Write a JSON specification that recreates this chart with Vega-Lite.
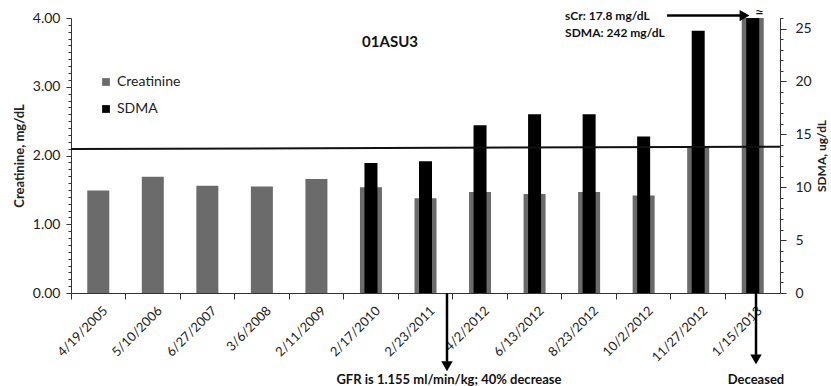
{
  "$schema": "https://vega.github.io/schema/vega-lite/v6.json",
  "autosize": "none",
  "width": 709,
  "height": 275,
  "padding": {"left": 71, "top": 18, "right": 51, "bottom": 93},
  "background": "white",
  "config": {
    "view": {"stroke": null},
    "font": "Lato",
    "axis": {
      "grid": false,
      "domainColor": "#333333",
      "tickColor": "#333333",
      "labelColor": "#222222",
      "titleColor": "#222222",
      "labelFont": "Lato",
      "titleFont": "Lato",
      "labelFontSize": 13,
      "titleFontSize": 13,
      "titleFontWeight": "bold"
    },
    "legend": {"labelFont": "Lato", "labelFontSize": 14, "labelColor": "#222222"}
  },
  "data": {
    "values": [
      {"date": "4/19/2005", "creatinine": 1.49, "sdma": null},
      {"date": "5/10/2006", "creatinine": 1.69, "sdma": null},
      {"date": "6/27/2007", "creatinine": 1.56, "sdma": null},
      {"date": "3/6/2008", "creatinine": 1.55, "sdma": null},
      {"date": "2/11/2009", "creatinine": 1.66, "sdma": null},
      {"date": "2/17/2010", "creatinine": 1.54, "sdma": 12.3},
      {"date": "2/23/2011", "creatinine": 1.38, "sdma": 12.45},
      {"date": "4/2/2012", "creatinine": 1.47, "sdma": 15.85},
      {"date": "6/13/2012", "creatinine": 1.44, "sdma": 16.9},
      {"date": "8/23/2012", "creatinine": 1.47, "sdma": 16.9},
      {"date": "10/2/2012", "creatinine": 1.42, "sdma": 14.8},
      {"date": "11/27/2012", "creatinine": 2.13, "sdma": 24.8},
      {"date": "1/15/2013", "creatinine": 17.8, "sdma": 242}
    ]
  },
  "resolve": {"scale": {"x": "independent", "y": "independent"}},
  "layer": [
    {
      "mark": {"type": "bar", "width": 22, "clip": true},
      "encoding": {
        "x": {
          "field": "date", "type": "ordinal", "sort": null,
          "scale": {"paddingInner": 0, "paddingOuter": 0, "domain": ["4/19/2005","5/10/2006","6/27/2007","3/6/2008","2/11/2009","2/17/2010","2/23/2011","4/2/2012","6/13/2012","8/23/2012","10/2/2012","11/27/2012","1/15/2013"]},
          "axis": {"title": null, "labelAngle": -45, "bandPosition": 0, "labelOffset": 3, "tickSize": 6, "labelPadding": 5, "labelFontSize": 13}
        },
        "y": {
          "field": "creatinine", "type": "quantitative",
          "scale": {"domain": [0, 4], "nice": false, "zero": true},
          "axis": {
            "title": "Creatinine, mg/dL",
            "tickCount": 40,
            "labelOverlap": false,
            "labelExpr": "abs(datum.value - round(datum.value)) < 0.001 ? format(datum.value, '.2f') : ''",
            "tickSize": {"condition": {"test": "abs(datum.value - round(datum.value)) < 0.001", "value": 5}, "value": 3},
            "labelPadding": 6,
            "labelFontSize": 14,
            "titlePadding": 6
          }
        },
        "color": {
          "datum": "Creatinine",
          "scale": {"domain": ["Creatinine", "SDMA"], "range": ["#6b6b6b", "#000000"]},
          "legend": {
            "title": null, "orient": "none", "legendX": 28, "legendY": 57,
            "symbolType": "square", "symbolSize": 60, "symbolStrokeWidth": 0,
            "rowPadding": 13, "labelOffset": 4
          }
        }
      }
    },
    {
      "mark": {"type": "bar", "width": 13, "clip": true},
      "encoding": {
        "x": {"field": "date", "type": "ordinal", "sort": null, "scale": {"paddingInner": 0, "paddingOuter": 0, "domain": ["4/19/2005","5/10/2006","6/27/2007","3/6/2008","2/11/2009","2/17/2010","2/23/2011","4/2/2012","6/13/2012","8/23/2012","10/2/2012","11/27/2012","1/15/2013"]}, "axis": null},
        "y": {
          "field": "sdma", "type": "quantitative",
          "scale": {"domain": [0, 26], "nice": false, "zero": true},
          "axis": {
            "orient": "right",
            "title": "SDMA, ug/dL",
            "titleAngle": -90,
            "titleBaseline": "top",
            "tickCount": 26,
            "labelOverlap": false,
            "labelExpr": "datum.value % 5 === 0 ? datum.label : ''",
            "tickSize": {"condition": {"test": "datum.value % 5 === 0", "value": 6}, "value": 3},
            "labelPadding": 9,
            "labelFontSize": 14,
            "titleFontSize": 12,
            "titlePadding": 5
          }
        },
        "color": {"datum": "SDMA"}
      }
    },
    {
      "data": {"values": [{}]},
      "encoding": {
        "x": {"type": "quantitative", "scale": {"domain": [0, 13], "nice": false, "zero": false}, "axis": null},
        "y": {"type": "quantitative", "scale": {"domain": [0, 4], "nice": false, "zero": false}, "axis": null}
      },
      "layer": [
        {
          "mark": {"type": "rule", "color": "#111111", "strokeWidth": 2, "clip": false},
          "encoding": {"x": {"datum": 0}, "x2": {"datum": 13}, "y": {"datum": 2.095}, "y2": {"datum": 2.128}}
        },
        {
          "mark": {"type": "text", "text": "01ASU3", "fontSize": 15, "fontWeight": "bold", "color": "#111111", "align": "center", "baseline": "middle"},
          "encoding": {"x": {"datum": 5.85}, "y": {"datum": 3.65}}
        },
        {
          "mark": {"type": "rule", "color": "#000000", "strokeWidth": 2.5, "clip": false},
          "encoding": {"x": {"datum": 6.894}, "y": {"datum": 0}, "y2": {"datum": -1.0}}
        },
        {
          "mark": {"type": "point", "shape": "triangle-down", "filled": true, "size": 130, "color": "#000000", "opacity": 1, "clip": false},
          "encoding": {"x": {"datum": 6.894}, "y": {"datum": -1.065}}
        },
        {
          "mark": {"type": "rule", "color": "#000000", "strokeWidth": 2.5, "clip": false},
          "encoding": {"x": {"datum": 12.56}, "y": {"datum": 0}, "y2": {"datum": -0.9}}
        },
        {
          "mark": {"type": "point", "shape": "triangle-down", "filled": true, "size": 130, "color": "#000000", "opacity": 1, "clip": false},
          "encoding": {"x": {"datum": 12.56}, "y": {"datum": -0.965}}
        },
        {
          "mark": {"type": "text", "text": "GFR is 1.155 ml/min/kg; 40% decrease", "fontSize": 13, "fontWeight": "bold", "color": "#111111", "align": "center", "baseline": "middle"},
          "encoding": {"x": {"datum": 6.93}, "y": {"datum": -1.265}}
        },
        {
          "mark": {"type": "text", "text": "Deceased", "fontSize": 13, "fontWeight": "bold", "color": "#111111", "align": "center", "baseline": "middle"},
          "encoding": {"x": {"datum": 12.56}, "y": {"datum": -1.265}}
        },
        {
          "mark": {"type": "rule", "color": "#000000", "strokeWidth": 2.5, "clip": false},
          "encoding": {"x": {"datum": 10.93}, "x2": {"datum": 12.3}, "y": {"datum": 4.035}}
        },
        {
          "mark": {"type": "point", "shape": "triangle-right", "filled": true, "size": 130, "color": "#000000", "opacity": 1, "clip": false},
          "encoding": {"x": {"datum": 12.35}, "y": {"datum": 4.035}}
        },
        {
          "mark": {"type": "text", "text": "≈", "fontSize": 16, "color": "#111111", "align": "center", "baseline": "middle"},
          "encoding": {"x": {"datum": 12.62}, "y": {"datum": 4.08}}
        },
        {
          "mark": {"type": "text", "text": "sCr: 17.8 mg/dL", "fontSize": 12, "fontWeight": "bold", "color": "#111111", "align": "left", "baseline": "middle"},
          "encoding": {"x": {"datum": 9.06}, "y": {"datum": 4.035}}
        },
        {
          "mark": {"type": "text", "text": "SDMA: 242  mg/dL", "fontSize": 12, "fontWeight": "bold", "color": "#111111", "align": "left", "baseline": "middle"},
          "encoding": {"x": {"datum": 9.06}, "y": {"datum": 3.775}}
        }
      ]
    }
  ]
}
